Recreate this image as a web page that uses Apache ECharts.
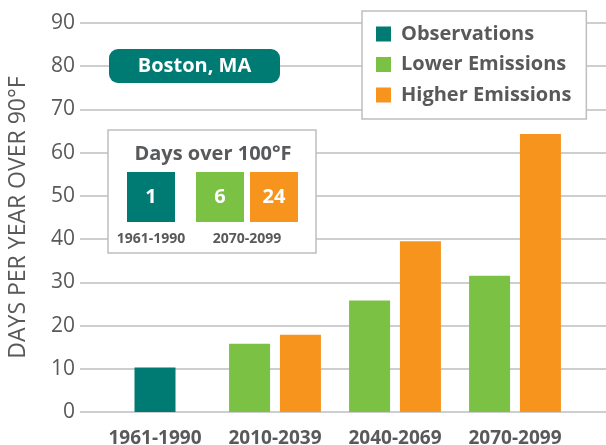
<!DOCTYPE html>
<html>
<head>
<meta charset="utf-8">
<script src="https://cdn.jsdelivr.net/npm/echarts@6/dist/echarts.min.js"></script>
<style>
  html, body { margin: 0; padding: 0; background: #fff; }
  #chart { width: 606px; height: 445px; }
</style>
</head>
<body>
<div id="chart"></div>
<script>
// data
const periods = ["1961-1990", "2010-2039", "2040-2069", "2070-2099"];
const observations = [10.3, null, null, null];
const lowerEmissions = [null, 15.8, 25.8, 31.5];
const higherEmissions = [null, 17.9, 39.5, 64.3];
const yMin = 0, yMax = 90, yStep = 10;

// inset: days over 100F
const insetTitle = "Days over 100°F";
const insetValues = ["1", "6", "24"];
const insetPeriods = ["1961-1990", "2070-2099"];
const cityName = "Boston, MA";

const TEAL = "#007b73";
const GREEN = "#7bc143";
const ORANGE = "#f7941d";
const GRAY = "#58595b";
const LINE = "#bcbec0";
const FONT = "Open Sans";

const chart = echarts.init(document.getElementById("chart"));

// inset boxes
const boxX = [127, 196, 250];
const boxColors = [TEAL, GREEN, ORANGE];
const insetEls = [
  {
    type: "rect", z: 10,
    shape: { x: 108, y: 130, width: 208, height: 123 },
    style: { fill: "#fff", stroke: LINE, lineWidth: 1.5 }
  },
  {
    type: "text", z: 11, x: 213, y: 154,
    style: { text: insetTitle, fill: GRAY, font: "bold 20px " + FONT, align: "center", verticalAlign: "middle" }
  }
];
insetValues.forEach((v, i) => {
  insetEls.push({
    type: "rect", z: 11,
    shape: { x: boxX[i], y: 172, width: 48, height: 50 },
    style: { fill: boxColors[i] }
  });
  insetEls.push({
    type: "text", z: 12, x: boxX[i] + 24, y: 197,
    style: { text: v, fill: "#fff", font: "bold 20px " + FONT, align: "center", verticalAlign: "middle" }
  });
});
insetEls.push({
  type: "text", z: 11, x: 151, y: 239,
  style: { text: insetPeriods[0], fill: GRAY, font: "bold 14px " + FONT, align: "center", verticalAlign: "middle" }
});
insetEls.push({
  type: "text", z: 11, x: 247, y: 239,
  style: { text: insetPeriods[1], fill: GRAY, font: "bold 14px " + FONT, align: "center", verticalAlign: "middle" }
});

const option = {
  animation: false,
  textStyle: { fontFamily: FONT },
  grid: [
    { left: 80, right: 0, top: 23, bottom: 33, outerBoundsMode: "none" },
    { left: 95, right: 31, top: 23, bottom: 33, outerBoundsMode: "none" }
  ],
  xAxis: [
    { gridIndex: 0, type: "value", show: false },
    {
      gridIndex: 1, type: "category", data: periods,
      axisLine: { show: false }, axisTick: { show: false },
      axisLabel: { color: GRAY, fontSize: 19, fontWeight: "bold", margin: 17, interval: 0 }
    },
    { gridIndex: 1, type: "category", data: periods, show: false }
  ],
  yAxis: [
    {
      gridIndex: 0, type: "value", min: yMin, max: yMax, interval: yStep,
      axisLine: { show: false }, axisTick: { show: false },
      axisLabel: { color: GRAY, fontSize: 21, margin: 5 },
      splitLine: { lineStyle: { color: LINE, width: 1.5 } },
      name: "DAYS PER YEAR OVER 90°F",
      nameLocation: "middle", nameGap: 50, nameRotate: 90,
      nameTextStyle: { color: GRAY, fontSize: 23 }
    },
    { gridIndex: 1, type: "value", min: yMin, max: yMax, interval: yStep, show: false }
  ],
  legend: {
    orient: "vertical", left: 362, top: 11,
    backgroundColor: "#fff", borderColor: LINE, borderWidth: 1.5,
    padding: [13, 15, 14, 14],
    itemWidth: 15, itemHeight: 15, itemGap: 10.5,
    icon: "rect",
    formatter: (name) => "{t|" + name + "}",
    textStyle: {
      rich: { t: { color: GRAY, fontSize: 20, fontWeight: "bold", fontFamily: FONT, padding: [0, 0, 0, 5] } }
    },
    data: ["Observations", "Lower Emissions", "Higher Emissions"]
  },
  graphic: [
    {
      type: "rect", z: 10,
      shape: { x: 109, y: 49, width: 171, height: 34, r: 9 },
      style: { fill: TEAL }
    },
    {
      type: "text", z: 11, x: 194.5, y: 66,
      style: { text: cityName, fill: "#fff", font: "bold 20px " + FONT, align: "center", verticalAlign: "middle" }
    }
  ].concat(insetEls),
  series: [
    {
      name: "Observations", type: "bar", xAxisIndex: 2, yAxisIndex: 1,
      data: observations, barWidth: 41, itemStyle: { color: TEAL }
    },
    {
      name: "Lower Emissions", type: "bar", xAxisIndex: 1, yAxisIndex: 1,
      data: lowerEmissions, barWidth: 41, barGap: "24%", itemStyle: { color: GREEN }
    },
    {
      name: "Higher Emissions", type: "bar", xAxisIndex: 1, yAxisIndex: 1,
      data: higherEmissions, barWidth: 41, barGap: "24%", itemStyle: { color: ORANGE }
    }
  ]
};

chart.setOption(option);
</script>
</body>
</html>
